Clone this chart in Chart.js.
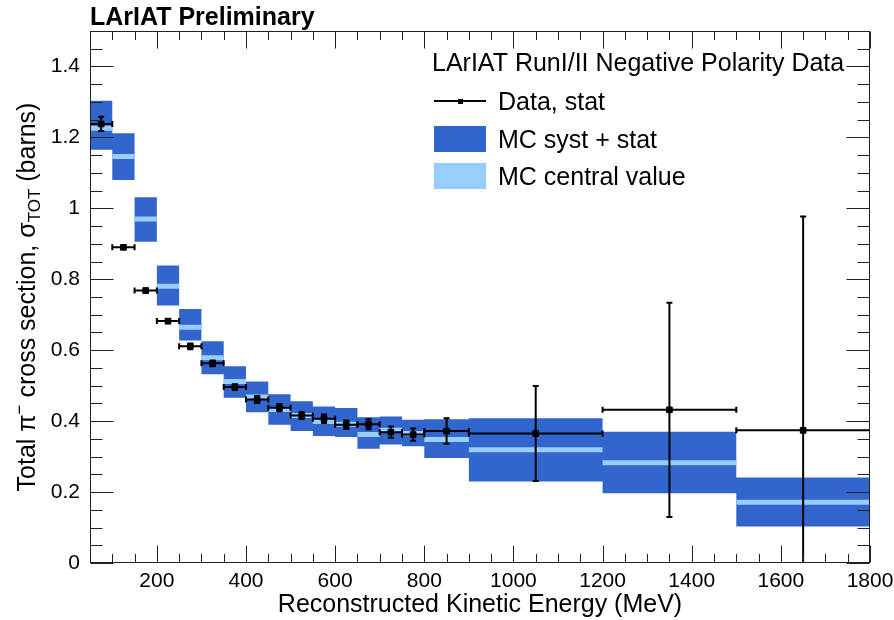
<!DOCTYPE html>
<html lang="en">
<head>
    <meta charset="UTF-8">
    <title>LArIAT pi- total cross section</title>
    <script src="https://cdn.jsdelivr.net/npm/chart.js"></script>
    <style>
        html, body { margin: 0; padding: 0; background: #fff; }
    </style>
</head>
<body>
<canvas id="xsecChart" width="894" height="620"></canvas>

<script>
    // histogram bin edges (MeV)
    const binEdges = [50, 100, 150, 200, 250, 300, 350, 400, 450, 500, 550, 600, 650, 700, 750, 800, 900, 1200, 1500, 1800];

    // MC band (barns), one value per bin
    const mcUpper   = [1.303, 1.212, 1.031, 0.839, 0.716, 0.625, 0.555, 0.512, 0.476, 0.456, 0.441, 0.437, 0.411, 0.413, 0.404, 0.405, 0.408, 0.370, 0.241];
    const mcLower   = [1.165, 1.080, 0.906, 0.726, 0.627, 0.532, 0.466, 0.425, 0.390, 0.372, 0.358, 0.355, 0.322, 0.334, 0.329, 0.296, 0.230, 0.197, 0.103];
    const mcCentral = [1.226, 1.146, 0.970, 0.780, 0.665, 0.579, 0.512, 0.468, 0.433, 0.416, 0.399, 0.391, 0.362, 0.374, 0.365, 0.348, 0.319, 0.283, 0.171];

    // data points
    const dataX    = [75, 125, 175, 225, 275, 325, 375, 425, 475, 525, 575, 625, 675, 725, 775, 850, 1050, 1350, 1650];
    const dataXErr = [25, 25, 25, 25, 25, 25, 25, 25, 25, 25, 25, 25, 25, 25, 25, 50, 150, 150, 150];
    const dataY    = [1.238, 0.890, 0.768, 0.682, 0.611, 0.563, 0.496, 0.461, 0.438, 0.416, 0.407, 0.390, 0.391, 0.369, 0.362, 0.372, 0.365, 0.432, 0.374];
    const dataYErr = [0.020, 0.005, 0.006, 0.006, 0.008, 0.008, 0.008, 0.010, 0.010, 0.010, 0.012, 0.012, 0.014, 0.016, 0.017, 0.036, 0.134, 0.302, 0.603];

    const xTicks = [200, 400, 600, 800, 1000, 1200, 1400, 1600, 1800];
    const yTicks = [0, 0.2, 0.4, 0.6, 0.8, 1.0, 1.2, 1.4];

    const FONT = '"Liberation Sans", Arial, Helvetica, sans-serif';
    const BLUE = '#3366CC';
    const LIGHT = '#99CCFF';

    // step-style points: value i holds from edge i to edge i+1
    function stepPoints(vals) {
        return binEdges.map((e, i) => ({ x: e, y: vals[Math.min(i, vals.length - 1)] }));
    }

    // separate horizontal segments for the central value
    const centralPts = [];
    mcCentral.forEach((v, i) => {
        centralPts.push({ x: binEdges[i], y: v });
        centralPts.push({ x: binEdges[i + 1], y: v });
        centralPts.push({ x: binEdges[i + 1], y: null });
    });

    const errorBars = {
        id: 'errorBars',
        afterDatasetsDraw(chart) {
            const { ctx, chartArea: a, scales: { x, y } } = chart;
            const cap = 3;
            ctx.save();
            ctx.beginPath();
            ctx.rect(a.left, a.top, a.width, a.height);
            ctx.clip();
            ctx.strokeStyle = '#000';
            ctx.lineWidth = 2;
            dataX.forEach((xv, i) => {
                const px = x.getPixelForValue(xv);
                const py = y.getPixelForValue(dataY[i]);
                const x0 = x.getPixelForValue(xv - dataXErr[i]);
                const x1 = x.getPixelForValue(xv + dataXErr[i]);
                const y0 = y.getPixelForValue(dataY[i] - dataYErr[i]);
                const y1 = y.getPixelForValue(dataY[i] + dataYErr[i]);
                ctx.beginPath();
                ctx.moveTo(x0, py); ctx.lineTo(x1, py);
                ctx.moveTo(px, y0); ctx.lineTo(px, y1);
                ctx.moveTo(x0, py - cap); ctx.lineTo(x0, py + cap);
                ctx.moveTo(x1, py - cap); ctx.lineTo(x1, py + cap);
                ctx.moveTo(px - cap, y0); ctx.lineTo(px + cap, y0);
                ctx.moveTo(px - cap, y1); ctx.lineTo(px + cap, y1);
                ctx.stroke();
            });
            ctx.restore();
        }
    };

    const frameAndText = {
        id: 'frameAndText',
        afterDraw(chart) {
            const { ctx, chartArea: a, scales: { x, y } } = chart;
            ctx.save();

            // frame with inward ticks on all sides
            const L = Math.round(a.left) + 0.5, R = Math.round(a.right) - 0.5;
            const T = Math.round(a.top) + 0.5, B = Math.round(a.bottom) - 0.5;
            ctx.strokeStyle = '#222';
            ctx.lineWidth = 1;
            ctx.strokeRect(L, T, R - L, B - T);
            ctx.beginPath();
            for (let v = 50; v <= 1800; v += 50) {
                const px = Math.round(x.getPixelForValue(v)) + 0.5;
                const len = xTicks.includes(v) ? 17 : 8.5;
                ctx.moveTo(px, B); ctx.lineTo(px, B - len);
                ctx.moveTo(px, T); ctx.lineTo(px, T + len);
            }
            for (let k = 0; k <= 30; k++) {
                const v = k * 0.05;
                const py = Math.round(y.getPixelForValue(v)) + 0.5;
                const len = (k % 4 === 0) ? 23 : 12;
                ctx.moveTo(L, py); ctx.lineTo(L + len, py);
                ctx.moveTo(R, py); ctx.lineTo(R - len, py);
            }
            ctx.stroke();

            ctx.fillStyle = '#000';
            ctx.textBaseline = 'alphabetic';

            // title
            ctx.font = 'bold 25px ' + FONT;
            ctx.textAlign = 'left';
            ctx.fillText('LArIAT Preliminary', 90, 25);

            // x axis title
            ctx.font = '25px ' + FONT;
            ctx.textAlign = 'center';
            ctx.fillText('Reconstructed Kinetic Energy (MeV)', (a.left + a.right) / 2, 612);

            // y axis title with super/subscripts
            const parts = [
                { t: 'Total \u03c0', s: 25, dy: 0 },
                { t: '\u2212', s: 17, dy: -10 },
                { t: ' cross section, \u03c3', s: 25, dy: 0 },
                { t: 'TOT', s: 17, dy: 5 },
                { t: ' (barns)', s: 25, dy: 0 }
            ];
            let total = 0;
            parts.forEach(p => { ctx.font = p.s + 'px ' + FONT; p.w = ctx.measureText(p.t).width; total += p.w; });
            ctx.translate(35, (a.top + a.bottom) / 2);
            ctx.rotate(-Math.PI / 2);
            ctx.textAlign = 'left';
            let cx = -total / 2;
            parts.forEach(p => {
                ctx.font = p.s + 'px ' + FONT;
                ctx.fillText(p.t, cx, p.dy);
                cx += p.w;
            });
            ctx.setTransform(1, 0, 0, 1, 0, 0);

            // legend
            ctx.textAlign = 'left';
            ctx.font = '25px ' + FONT;
            ctx.fillText('LArIAT RunI/II Negative Polarity Data', 432, 71);
            ctx.fillText('Data, stat', 498, 110);
            ctx.fillText('MC syst + stat', 498, 148);
            ctx.fillText('MC central value', 498, 185);

            ctx.strokeStyle = '#000';
            ctx.lineWidth = 2;
            ctx.beginPath();
            ctx.moveTo(434, 101); ctx.lineTo(486, 101);
            ctx.stroke();
            ctx.fillRect(458, 99, 5, 5);

            ctx.fillStyle = BLUE;
            ctx.fillRect(434, 126, 52, 26);
            ctx.fillStyle = LIGHT;
            ctx.fillRect(434, 163, 52, 26);

            ctx.restore();
        }
    };

    new Chart(document.getElementById('xsecChart').getContext('2d'), {
        type: 'line',
        data: {
            datasets: [
                {
                    label: 'Data, stat',
                    data: dataX.map((v, i) => ({ x: v, y: dataY[i] })),
                    showLine: false,
                    pointStyle: 'rect',
                    pointRadius: 4,
                    pointBackgroundColor: '#000',
                    pointBorderColor: '#000',
                    borderColor: '#000',
                    order: 0
                },
                {
                    label: 'MC central value',
                    data: centralPts,
                    borderColor: LIGHT,
                    borderWidth: 5,
                    borderCapStyle: 'butt',
                    pointRadius: 0,
                    spanGaps: false,
                    fill: false,
                    order: 1
                },
                {
                    label: 'MC syst + stat',
                    data: stepPoints(mcUpper),
                    stepped: 'before',
                    borderColor: BLUE,
                    borderWidth: 0,
                    backgroundColor: BLUE,
                    pointRadius: 0,
                    fill: '+1',
                    order: 2
                },
                {
                    label: 'MC lower',
                    data: stepPoints(mcLower),
                    stepped: 'before',
                    borderColor: BLUE,
                    borderWidth: 0,
                    pointRadius: 0,
                    fill: false,
                    order: 3
                }
            ]
        },
        options: {
            responsive: false,
            animation: false,
            devicePixelRatio: 1,
            layout: { padding: { left: 0, right: 24, top: 31, bottom: 0 } },
            plugins: {
                legend: { display: false },
                tooltip: { enabled: false },
                title: { display: false }
            },
            scales: {
                x: {
                    type: 'linear',
                    min: 50,
                    max: 1800,
                    grid: { display: false, drawTicks: false },
                    border: { display: false },
                    afterBuildTicks: s => { s.ticks = xTicks.map(v => ({ value: v })); },
                    afterFit: s => { s.height = 57; s.paddingLeft = 0; s.paddingRight = 0; },
                    ticks: {
                        color: '#000',
                        padding: 6,
                        maxRotation: 0,
                        autoSkip: false,
                        font: { family: FONT, size: 21 },
                        callback: v => String(v)
                    }
                },
                y: {
                    type: 'linear',
                    min: 0,
                    max: 1.5,
                    grid: { display: false, drawTicks: false },
                    border: { display: false },
                    afterBuildTicks: s => { s.ticks = yTicks.map(v => ({ value: v })); },
                    afterFit: s => { s.width = 90; s.paddingTop = 0; s.paddingBottom = 0; },
                    ticks: {
                        color: '#000',
                        padding: 10,
                        autoSkip: false,
                        font: { family: FONT, size: 21 },
                        callback: v => String(+v.toFixed(1))
                    }
                }
            }
        },
        plugins: [errorBars, frameAndText]
    });
</script>
</body>
</html>
